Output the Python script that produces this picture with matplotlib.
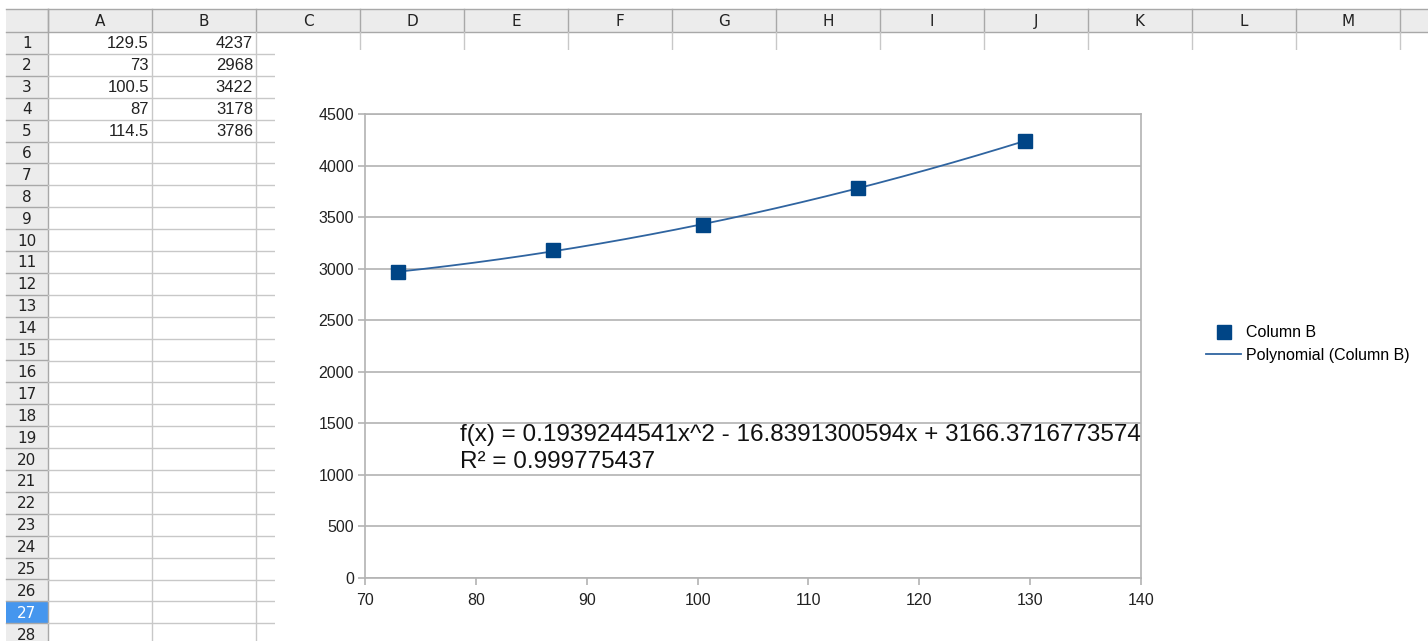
import numpy as np
import matplotlib
matplotlib.use("Agg")
import matplotlib.pyplot as plt
from matplotlib.patches import Rectangle

# data (columns A and B of the sheet)
col_a = [129.5, 73, 100.5, 87, 114.5]
col_b = [4237, 2968, 3422, 3178, 3786]
col_a_text = ["129.5", "73", "100.5", "87", "114.5"]
col_letters = ["A", "B", "C", "D", "E", "F", "G", "H", "I", "J", "K", "L", "M"]
row_numbers = list(range(1, 29))
selected_row = 27

x_ticks = [70, 80, 90, 100, 110, 120, 130, 140]
y_ticks = [0, 500, 1000, 1500, 2000, 2500, 3000, 3500, 4000, 4500]
eq_line = "f(x) = 0.1939244541x^2 - 16.8391300594x + 3166.3716773574"
r2_line = "R\u00b2 = 0.999775437"

W, H = 1428, 641
fig = plt.figure(figsize=(W / 100, H / 100), dpi=100)
fig.patch.set_facecolor("white")

# ---- spreadsheet background (pixel coords) ----
bg = fig.add_axes([0, 0, 1, 1], zorder=0)
bg.set_xlim(0, W)
bg.set_ylim(H, 0)
bg.axis("off")

head_top, head_bot = 9, 32
left, rn_right = 6, 48
col_w = 104
row_h = 21.9
grid_c = "#c8c8c8"
head_c = "#ececec"
edge_c = "#a8a8a8"

# column header band
bg.add_patch(Rectangle((left, head_top), W - left, head_bot - head_top,
                       facecolor=head_c, edgecolor="none"))
bg.plot([left, W], [head_top, head_top], color=edge_c, lw=1)
bg.plot([left, W], [head_bot, head_bot], color=edge_c, lw=1)
for i, letter in enumerate(col_letters):
    x0 = rn_right + i * col_w
    bg.text(x0 + col_w / 2, (head_top + head_bot) / 2 + 1, letter,
            ha="center", va="center", fontsize=11,
            color="#222222", family="DejaVu Sans")
for i in range(len(col_letters) + 1):
    x0 = rn_right + i * col_w
    bg.plot([x0, x0], [head_top, head_bot], color=edge_c, lw=1)

# row number column
bg.add_patch(Rectangle((left, head_bot), rn_right - left, H - head_bot,
                       facecolor=head_c, edgecolor="none"))
bg.plot([rn_right, rn_right], [head_top, H], color=edge_c, lw=1)
for r in row_numbers:
    y0 = head_bot + (r - 1) * row_h
    if r == selected_row:
        bg.add_patch(Rectangle((left, y0), rn_right - left, row_h,
                               facecolor="#4596ee", edgecolor="none"))
        tc = "white"
    else:
        tc = "#222222"
    bg.text((left + rn_right) / 2, y0 + row_h / 2 + 1, str(r),
            ha="center", va="center", fontsize=11,
            color=tc, family="DejaVu Sans")
    bg.plot([left, rn_right], [y0 + row_h, y0 + row_h], color=edge_c, lw=1)

# cell grid
for r in row_numbers:
    y0 = head_bot + r * row_h
    bg.plot([rn_right, W], [y0, y0], color=grid_c, lw=1)
for i in range(1, len(col_letters) + 1):
    x0 = rn_right + i * col_w
    bg.plot([x0, x0], [head_bot, H], color=grid_c, lw=1)

# cell values
for i in range(len(col_a)):
    yc = head_bot + i * row_h + row_h / 2 + 1
    bg.text(rn_right + col_w - 3, yc, col_a_text[i], ha="right", va="center",
            fontsize=12, family="Liberation Sans", color="#222222")
    bg.text(rn_right + 2 * col_w - 3, yc, str(col_b[i]), ha="right", va="center",
            fontsize=12, family="Liberation Sans", color="#222222")

# chart object (white area covering the cells)
bg.add_patch(Rectangle((275, 50), W - 275, H - 50, facecolor="white",
                       edgecolor="none", zorder=5))

# ---- chart ----
px_l, px_r, px_t, px_b = 365, 1141, 114, 578
ax = fig.add_axes([px_l / W, 1 - px_b / H, (px_r - px_l) / W, (px_b - px_t) / H],
                  zorder=2)
ax.set_facecolor("white")
ax.set_xlim(70, 140)
ax.set_ylim(0, 4500)
ax.set_xticks(x_ticks)
ax.set_yticks(y_ticks)
ax.yaxis.grid(True, color="#b3b3b3", lw=1.2)
ax.set_axisbelow(True)
for s in ax.spines.values():
    s.set_color("#b3b3b3")
    s.set_linewidth(1.2)
ax.tick_params(direction="out", length=5, width=1.2, color="#b3b3b3",
               labelsize=11.5, labelcolor="#222222", pad=3)
ax.tick_params(axis="x", pad=6)
for lab in ax.get_xticklabels() + ax.get_yticklabels():
    lab.set_family("Liberation Sans")

blue = "#004586"
coef = np.polyfit(col_a, col_b, 2)
xs = np.linspace(min(col_a), max(col_a), 200)
ax.plot(xs, np.polyval(coef, xs), color="#2f64a0", lw=1.3,
        label="Polynomial (Column B)", zorder=3)
ax.plot(col_a, col_b, ls="none", marker="s", ms=9.5, color=blue,
        label="Column B", zorder=4)

ax.text(78.6, 1386, eq_line, ha="left", va="center", fontsize=17.5,
        family="Liberation Sans", color="#111111")
ax.text(78.6, 1124, r2_line, ha="left", va="center", fontsize=17.5,
        family="Liberation Sans", color="#111111")

h, l = ax.get_legend_handles_labels()
leg = fig.legend([h[1], h[0]], [l[1], l[0]], loc="center left",
                 bbox_to_anchor=(1206 / W, 1 - 344 / H), frameon=False,
                 handlelength=2.2, handletextpad=0.3,
                 labelspacing=0.45, borderpad=0, borderaxespad=0, numpoints=1,
                 prop={"family": "Liberation Sans", "size": 11.5})
leg.set_zorder(10)

fig.savefig("out.png", dpi=100)
